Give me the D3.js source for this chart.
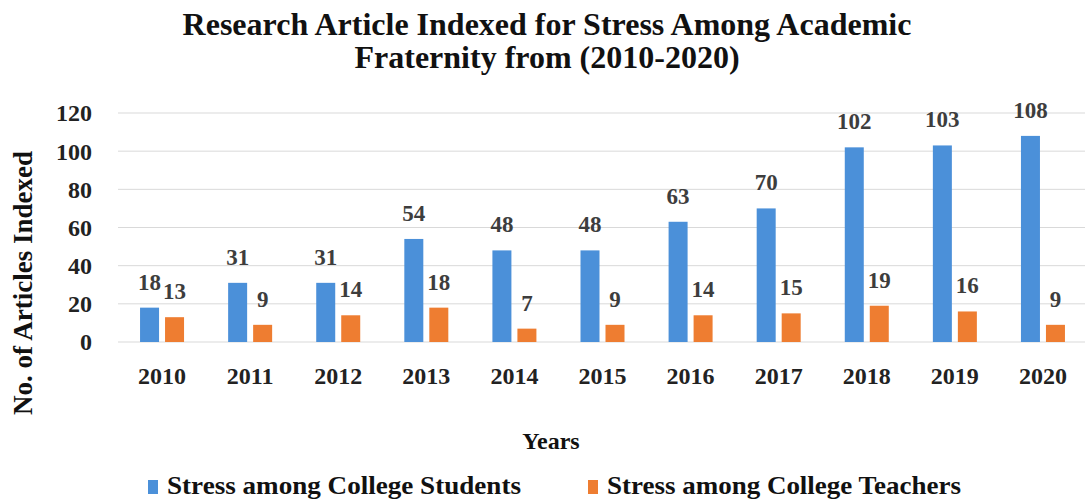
<!DOCTYPE html>
<html>
<head>
<meta charset="utf-8">
<script src="https://cdn.jsdelivr.net/npm/d3@7"></script>
<style>
  body { margin: 0; background: #fff; }
  text { font-family: "Liberation Serif", "Times New Roman", serif; font-weight: bold; }
</style>
</head>
<body>
<script>
// data
const years    = ["2010", "2011", "2012", "2013", "2014", "2015", "2016", "2017", "2018", "2019", "2020"];
const students = [18, 31, 31, 54, 48, 48, 63, 70, 102, 103, 108];
const teachers = [13, 9, 14, 18, 7, 9, 14, 15, 19, 16, 9];
const yTicks   = [0, 20, 40, 60, 80, 100, 120];
const seriesNames = ["Stress among College Students", "Stress among College Teachers"];

function drawChart() {
    const width = 1085, height = 502;
    const marginLeft = 118, marginRight = -2, marginTop = 113, marginBottom = 160;
    const colors = ["#4b90d9", "#ee7d31"];

    const svg = d3.select("body").append("svg")
        .attr("width", width)
        .attr("height", height);

    const x = d3.scaleBand()
        .domain(years)
        .range([marginLeft, width - marginRight]);

    const y = d3.scaleLinear()
        .domain([0, 120])
        .range([height - marginBottom, marginTop]);

    // gridlines
    svg.append("g")
        .selectAll("line")
        .data(yTicks)
        .join("line")
            .attr("x1", marginLeft)
            .attr("x2", width)
            .attr("y1", d => y(d))
            .attr("y2", d => y(d))
            .attr("stroke", "#d9d9d9")
            .attr("stroke-width", 1);

    // y tick labels
    svg.append("g")
        .selectAll("text")
        .data(yTicks)
        .join("text")
            .attr("x", 92)
            .attr("y", d => y(d))
            .attr("dy", "0.35em")
            .attr("text-anchor", "end")
            .attr("font-size", 24)
            .attr("fill", "#222")
            .text(d => d);

    // bars, blue then orange inside each band
    const barW = 19, gap = 6;
    const groupW = barW * 2 + gap;
    const series = [students, teachers];
    const barX = (i, s) => x(years[i]) + (x.bandwidth() - groupW) / 2 + s * (barW + gap);

    series.forEach((vals, s) => {
        const g = svg.append("g");
        g.selectAll("rect")
            .data(vals)
            .join("rect")
                .attr("x", (d, i) => barX(i, s))
                .attr("y", d => y(d))
                .attr("width", barW)
                .attr("height", d => y(0) - y(d))
                .attr("fill", colors[s]);

        g.selectAll("text")
            .data(vals)
            .join("text")
                .attr("x", (d, i) => barX(i, s) + barW / 2)
                .attr("y", d => y(d) - 18)
                .attr("text-anchor", "middle")
                .attr("font-size", 23)
                .attr("fill", "#3d3d3d")
                .text(d => d);
    });

    // x labels
    svg.append("g")
        .selectAll("text")
        .data(years)
        .join("text")
            .attr("x", d => x(d) + x.bandwidth() / 2)
            .attr("y", 384)
            .attr("text-anchor", "middle")
            .attr("font-size", 24)
            .attr("fill", "#222")
            .text(d => d);

    // titles
    const title = svg.append("text")
        .attr("text-anchor", "middle")
        .attr("font-size", 32)
        .attr("fill", "#111");
    title.append("tspan").attr("x", 547).attr("y", 35).text("Research Article Indexed for Stress Among Academic");
    title.append("tspan").attr("x", 547).attr("y", 68).text("Fraternity from (2010-2020)");

    svg.append("text")
        .attr("transform", "translate(32,283) rotate(-90)")
        .attr("text-anchor", "middle")
        .attr("font-size", 27)
        .attr("fill", "#111")
        .text("No. of Articles Indexed");

    svg.append("text")
        .attr("x", 551)
        .attr("y", 449)
        .attr("text-anchor", "middle")
        .attr("font-size", 24)
        .attr("fill", "#111")
        .text("Years");

    // legend
    const legendX = [148, 588];
    const legend = svg.append("g")
        .selectAll("g")
        .data(seriesNames)
        .join("g")
            .attr("transform", (d, i) => `translate(${legendX[i]},0)`);

    legend.append("rect")
        .attr("x", 0).attr("y", 480)
        .attr("width", 10).attr("height", 14)
        .attr("fill", (d, i) => colors[i]);

    legend.append("text")
        .attr("x", 19)
        .attr("y", 494)
        .attr("font-size", 26)
        .attr("fill", "#111")
        .attr("textLength", 354)
        .attr("lengthAdjust", "spacingAndGlyphs")
        .text(d => d);
}

drawChart();
</script>
</body>
</html>
